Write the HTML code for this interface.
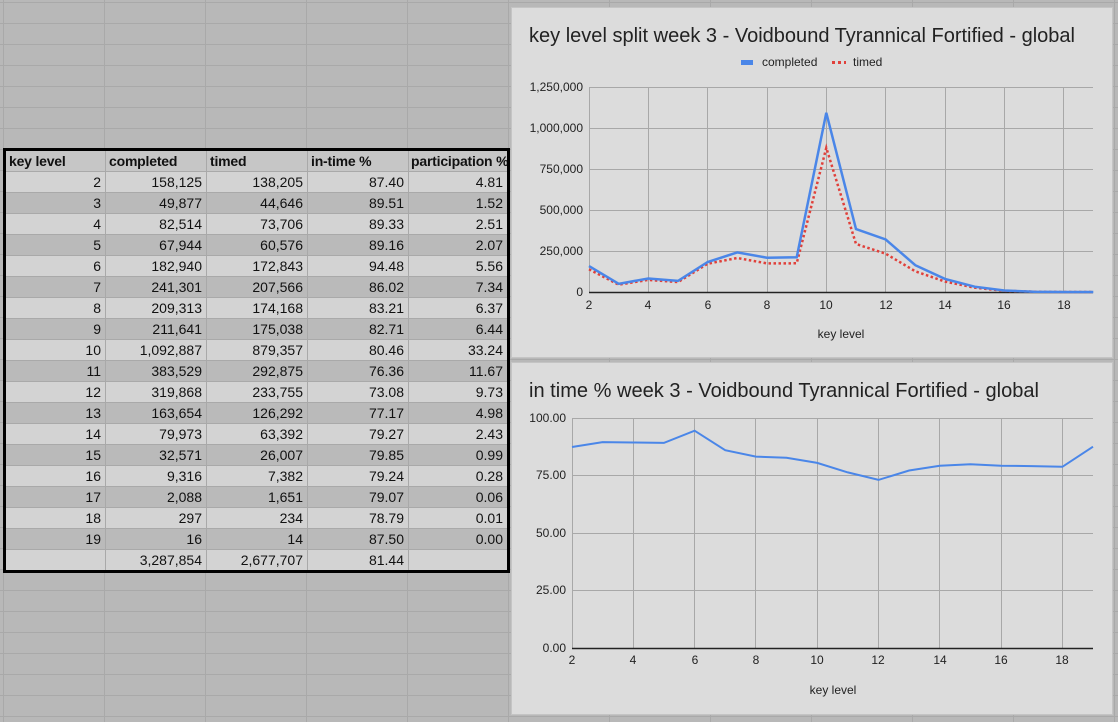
<!DOCTYPE html>
<html><head><meta charset="utf-8"><style>
html,body{margin:0;padding:0}
body{width:1118px;height:722px;position:relative;overflow:hidden;background-color:#b8b8b8;
background-image:linear-gradient(to right,#a9a9a9 1px,transparent 1px),linear-gradient(to bottom,#a9a9a9 1px,transparent 1px);
background-size:101px 21px;background-position:3px 2px;font-family:"Liberation Sans",Arial,sans-serif}
table{position:absolute;left:3px;top:148px;width:507px;table-layout:fixed;border:3px solid #000;border-collapse:collapse;font-size:14px;color:#111}
td{height:20px;padding:0 4px 0 3px;box-sizing:border-box;text-align:right;border-right:1px solid #a9a9a9;border-bottom:1px solid #a9a9a9;line-height:20px;white-space:nowrap;overflow:hidden}
tr.h td{text-align:left;font-weight:bold;background:#c6c6c6;letter-spacing:-0.2px}
tr.l td{background:#d3d3d3}
tr.d td{background:#bababa}
svg{position:absolute;left:0;top:0}
</style></head><body>
<table>
<colgroup><col style="width:101px"><col style="width:101px"><col style="width:101px"><col style="width:101px"><col style="width:100px"></colgroup>
<tr class="h"><td>key level</td><td>completed</td><td>timed</td><td>in-time %</td><td style="padding:0 0 0 2px">participation %</td></tr>
<tr class="l"><td>2</td><td>158,125</td><td>138,205</td><td>87.40</td><td>4.81</td></tr>
<tr class="d"><td>3</td><td>49,877</td><td>44,646</td><td>89.51</td><td>1.52</td></tr>
<tr class="l"><td>4</td><td>82,514</td><td>73,706</td><td>89.33</td><td>2.51</td></tr>
<tr class="d"><td>5</td><td>67,944</td><td>60,576</td><td>89.16</td><td>2.07</td></tr>
<tr class="l"><td>6</td><td>182,940</td><td>172,843</td><td>94.48</td><td>5.56</td></tr>
<tr class="d"><td>7</td><td>241,301</td><td>207,566</td><td>86.02</td><td>7.34</td></tr>
<tr class="l"><td>8</td><td>209,313</td><td>174,168</td><td>83.21</td><td>6.37</td></tr>
<tr class="d"><td>9</td><td>211,641</td><td>175,038</td><td>82.71</td><td>6.44</td></tr>
<tr class="l"><td>10</td><td>1,092,887</td><td>879,357</td><td>80.46</td><td>33.24</td></tr>
<tr class="d"><td>11</td><td>383,529</td><td>292,875</td><td>76.36</td><td>11.67</td></tr>
<tr class="l"><td>12</td><td>319,868</td><td>233,755</td><td>73.08</td><td>9.73</td></tr>
<tr class="d"><td>13</td><td>163,654</td><td>126,292</td><td>77.17</td><td>4.98</td></tr>
<tr class="l"><td>14</td><td>79,973</td><td>63,392</td><td>79.27</td><td>2.43</td></tr>
<tr class="d"><td>15</td><td>32,571</td><td>26,007</td><td>79.85</td><td>0.99</td></tr>
<tr class="l"><td>16</td><td>9,316</td><td>7,382</td><td>79.24</td><td>0.28</td></tr>
<tr class="d"><td>17</td><td>2,088</td><td>1,651</td><td>79.07</td><td>0.06</td></tr>
<tr class="l"><td>18</td><td>297</td><td>234</td><td>78.79</td><td>0.01</td></tr>
<tr class="d"><td>19</td><td>16</td><td>14</td><td>87.50</td><td>0.00</td></tr>
<tr class="l"><td></td><td>3,287,854</td><td>2,677,707</td><td>81.44</td><td></td></tr>
</table>
<svg width="1118" height="722" font-family="Liberation Sans, Arial, sans-serif">
<!-- chart 1 -->
<rect x="511.5" y="7.5" width="601" height="350" fill="#dcdcdc" stroke="#c4c4c4"/>
<text x="529" y="42" font-size="20" fill="#222" textLength="546" lengthAdjust="spacingAndGlyphs">key level split week 3 - Voidbound Tyrannical Fortified - global</text>
<rect x="741" y="60" width="12" height="5" fill="#4a86e8"/>
<text x="762" y="66" font-size="12" fill="#222">completed</text>
<line x1="832" y1="62.5" x2="846" y2="62.5" stroke="#e0403a" stroke-width="3" stroke-dasharray="3,3"/>
<text x="853" y="66" font-size="12" fill="#222">timed</text>
<g stroke="#a8a8a8" stroke-width="1">
<line x1="589" y1="87.5" x2="1093" y2="87.5"/><line x1="589" y1="128.5" x2="1093" y2="128.5"/><line x1="589" y1="169.5" x2="1093" y2="169.5"/><line x1="589" y1="210.5" x2="1093" y2="210.5"/><line x1="589" y1="251.5" x2="1093" y2="251.5"/>
<line x1="589.5" y1="87" x2="589.5" y2="292"/><line x1="648.5" y1="87" x2="648.5" y2="292"/><line x1="707.5" y1="87" x2="707.5" y2="292"/><line x1="767.5" y1="87" x2="767.5" y2="292"/><line x1="826.5" y1="87" x2="826.5" y2="292"/><line x1="885.5" y1="87" x2="885.5" y2="292"/><line x1="945.5" y1="87" x2="945.5" y2="292"/><line x1="1004.5" y1="87" x2="1004.5" y2="292"/><line x1="1063.5" y1="87" x2="1063.5" y2="292"/>
</g>
<line x1="589" y1="292.5" x2="1093" y2="292.5" stroke="#222" stroke-width="1.5"/>
<g font-size="12" fill="#222" text-anchor="end">
<text x="583" y="91">1,250,000</text><text x="583" y="132">1,000,000</text><text x="583" y="173">750,000</text><text x="583" y="214">500,000</text><text x="583" y="255">250,000</text><text x="583" y="296">0</text>
</g>
<g font-size="12" fill="#222" text-anchor="middle">
<text x="589" y="309">2</text><text x="648" y="309">4</text><text x="708" y="309">6</text><text x="767" y="309">8</text><text x="826" y="309">10</text><text x="886" y="309">12</text><text x="945" y="309">14</text><text x="1004" y="309">16</text><text x="1064" y="309">18</text>
<text x="841" y="338">key level</text>
</g>
<polyline fill="none" stroke="#e0403a" stroke-width="2.5" stroke-dasharray="2.5,2.5" points="589,269.3 618.7,284.7 648.3,279.9 678,282.1 707.7,263.7 737.3,258 767,263.4 796.7,263.3 826.3,147.8 856,244 885.7,253.7 915.3,271.3 945,281.6 974.7,287.7 1004.3,290.8 1034,291.7 1063.7,292 1093.3,292"/>
<polyline fill="none" stroke="#4a86e8" stroke-width="2.5" points="589,266.1 618.7,283.8 648.3,278.5 678,280.9 707.7,262 737.3,252.4 767,257.7 796.7,257.3 826.3,112.8 856,229.1 885.7,239.5 915.3,265.2 945,278.9 974.7,286.7 1004.3,290.5 1034,291.7 1063.7,292 1093.3,292"/>
<!-- chart 2 -->
<rect x="511.5" y="362.5" width="601" height="352" fill="#dcdcdc" stroke="#c4c4c4"/>
<text x="529" y="397" font-size="20" fill="#222" textLength="510" lengthAdjust="spacingAndGlyphs">in time % week 3 - Voidbound Tyrannical Fortified - global</text>
<g stroke="#a8a8a8" stroke-width="1">
<line x1="572" y1="418.5" x2="1093" y2="418.5"/><line x1="572" y1="475.5" x2="1093" y2="475.5"/><line x1="572" y1="533.5" x2="1093" y2="533.5"/><line x1="572" y1="590.5" x2="1093" y2="590.5"/>
<line x1="572.5" y1="418" x2="572.5" y2="648"/><line x1="633.5" y1="418" x2="633.5" y2="648"/><line x1="694.5" y1="418" x2="694.5" y2="648"/><line x1="755.5" y1="418" x2="755.5" y2="648"/><line x1="817.5" y1="418" x2="817.5" y2="648"/><line x1="878.5" y1="418" x2="878.5" y2="648"/><line x1="939.5" y1="418" x2="939.5" y2="648"/><line x1="1001.5" y1="418" x2="1001.5" y2="648"/><line x1="1062.5" y1="418" x2="1062.5" y2="648"/>
</g>
<line x1="572" y1="648.5" x2="1093" y2="648.5" stroke="#222" stroke-width="1.5"/>
<g font-size="12" fill="#222" text-anchor="end">
<text x="566" y="422">100.00</text><text x="566" y="479">75.00</text><text x="566" y="537">50.00</text><text x="566" y="594">25.00</text><text x="566" y="652">0.00</text>
</g>
<g font-size="12" fill="#222" text-anchor="middle">
<text x="572" y="664">2</text><text x="633" y="664">4</text><text x="695" y="664">6</text><text x="756" y="664">8</text><text x="817" y="664">10</text><text x="878" y="664">12</text><text x="940" y="664">14</text><text x="1001" y="664">16</text><text x="1062" y="664">18</text>
<text x="833" y="694">key level</text>
</g>
<polyline fill="none" stroke="#4a86e8" stroke-width="2" points="572,447 602.6,442.1 633.3,442.5 663.9,442.9 694.6,430.7 725.2,450.2 755.9,456.6 786.5,457.8 817.2,462.9 847.8,472.4 878.5,479.9 909.1,470.5 939.8,465.7 970.4,464.3 1001.1,465.7 1031.7,466.1 1062.4,466.8 1093,446.7"/>
</svg>
</body></html>
